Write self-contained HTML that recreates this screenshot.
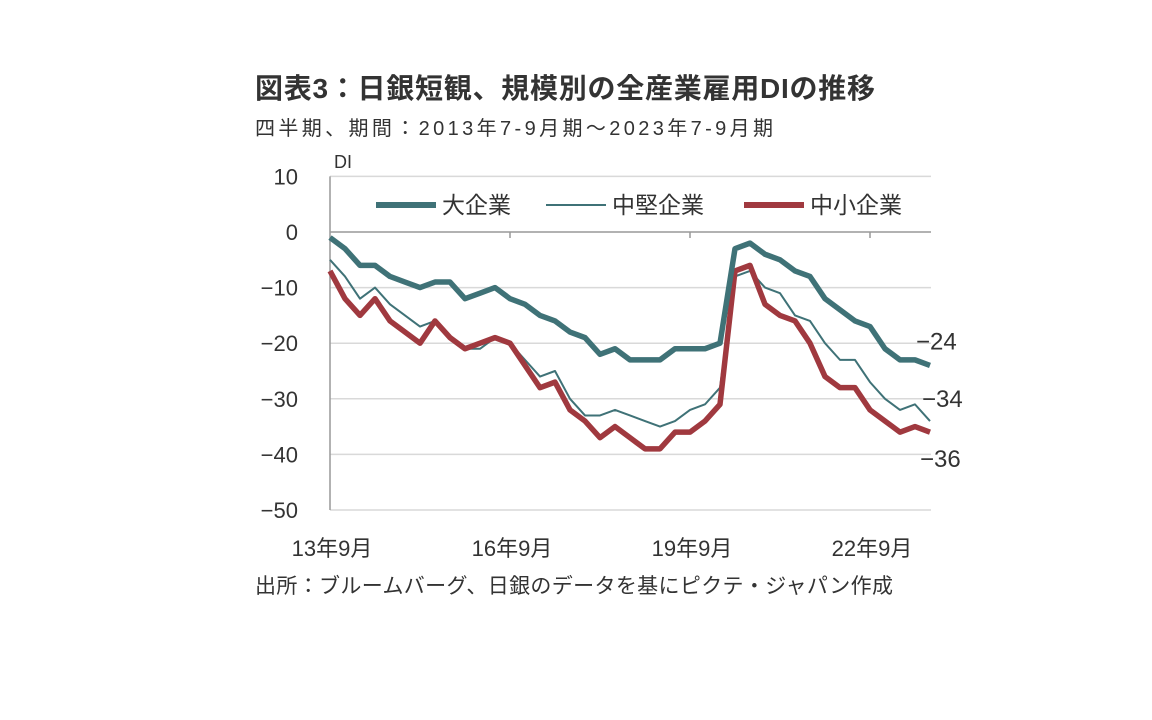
<!DOCTYPE html>
<html><head><meta charset="utf-8"><style>
body{margin:0;background:#fff;}
svg{display:block;font-family:"Liberation Sans","Noto Sans CJK JP",sans-serif;}
</style></head><body>
<svg id="chart" width="1152" height="720">
<text x="255" y="98" font-size="28" font-weight="bold" fill="#333" textLength="620">図表3：日銀短観、規模別の全産業雇用DIの推移</text>
<text x="255" y="135" font-size="20" fill="#333" textLength="518">四半期、期間：2013年7-9月期～2023年7-9月期</text>
<text x="255" y="593" font-size="21" fill="#333" textLength="638">出所：ブルームバーグ、日銀のデータを基にピクテ・ジャパン作成</text>
<text x="334" y="168" font-size="18" fill="#333">DI</text>
<g id="grid"></g><g id="series"></g>
<g>
<line x1="376" y1="205" x2="436" y2="205" stroke="#3f7277" stroke-width="6"/>
<text x="442" y="213" font-size="23" fill="#333">大企業</text>
<line x1="546" y1="205" x2="606" y2="205" stroke="#3f7277" stroke-width="2"/>
<text x="612" y="213" font-size="23" fill="#333">中堅企業</text>
<line x1="744" y1="205" x2="804" y2="205" stroke="#a0393f" stroke-width="6"/>
<text x="810" y="213" font-size="23" fill="#333">中小企業</text>
</g>
</svg>
<script>
const yTicks=[10,0,-10,-20,-30,-40,-50];
const xLabels=["13年9月","16年9月","19年9月","22年9月"];
const xLabelIdx=[0,12,24,36];
const large=[-1,-3,-6,-6,-8,-9,-10,-9,-9,-12,-11,-10,-12,-13,-15,-16,-18,-19,-22,-21,-23,-23,-23,-21,-21,-21,-20,-3,-2,-4,-5,-7,-8,-12,-14,-16,-17,-21,-23,-23,-24];
const mid=[-5,-8,-12,-10,-13,-15,-17,-16,-19,-21,-21,-19,-20,-23,-26,-25,-30,-33,-33,-32,-33,-34,-35,-34,-32,-31,-28,-8,-7,-10,-11,-15,-16,-20,-23,-23,-27,-30,-32,-31,-34];
const small=[-7,-12,-15,-12,-16,-18,-20,-16,-19,-21,-20,-19,-20,-24,-28,-27,-32,-34,-37,-35,-37,-39,-39,-36,-36,-34,-31,-7,-6,-13,-15,-16,-20,-26,-28,-28,-32,-34,-36,-35,-36];
const NS="http://www.w3.org/2000/svg";
const X=i=>330+15*i, Y=v=>232-v*5.56;
const grid=document.getElementById('grid'), ser=document.getElementById('series');
function mk(p,tag,a){const e=document.createElementNS(NS,tag);for(const k in a)e.setAttribute(k,a[k]);p.appendChild(e);return e;}
yTicks.forEach(v=>{
 const l=mk(grid,'line',{x1:330,x2:931,y1:Y(v),y2:Y(v),stroke:v===0?'#999':'#d9d9d9','stroke-width':1.5});
 
 
 const t=mk(grid,'text',{x:298,y:Y(v)+8,'font-size':22,'text-anchor':'end',fill:'#333'});
 t.textContent=v<0?'−'+(-v):String(v);
 
 
});
const ax=mk(grid,'line',{x1:330,x2:330,y1:Y(10),y2:Y(-50),stroke:'#999','stroke-width':1.5});


[12,24,36].forEach(i=>{const t=mk(grid,'line',{x1:X(i),x2:X(i),y1:Y(0),y2:Y(0)+6,stroke:'#999','stroke-width':1.5});
 
 });
xLabels.forEach((s,k)=>{const t=mk(grid,'text',{x:X(xLabelIdx[k])+2,y:556,'font-size':22,'text-anchor':'middle',fill:'#333'});
 t.textContent=s;
 
 });
function line(d,c,w,name){const p=mk(ser,'polyline',{points:d.map((v,i)=>X(i)+','+Y(v)).join(' '),fill:'none',stroke:c,'stroke-width':w,'stroke-linejoin':'round'});
 
 }
line(mid,'#3f7277',2,'line-mid');
line(small,'#a0393f',5.5,'line-small');
line(large,'#3f7277',5.5,'line-large');
[[large,-16,916],[mid,-14,922],[small,35,920]].forEach(([d,dy,x])=>{const v=d[d.length-1];
 const t=mk(ser,'text',{x:x,y:Y(v)+dy,'font-size':24,fill:'#333'});
 t.textContent='−'+(-v);
 
 });
</script>
</body></html>
